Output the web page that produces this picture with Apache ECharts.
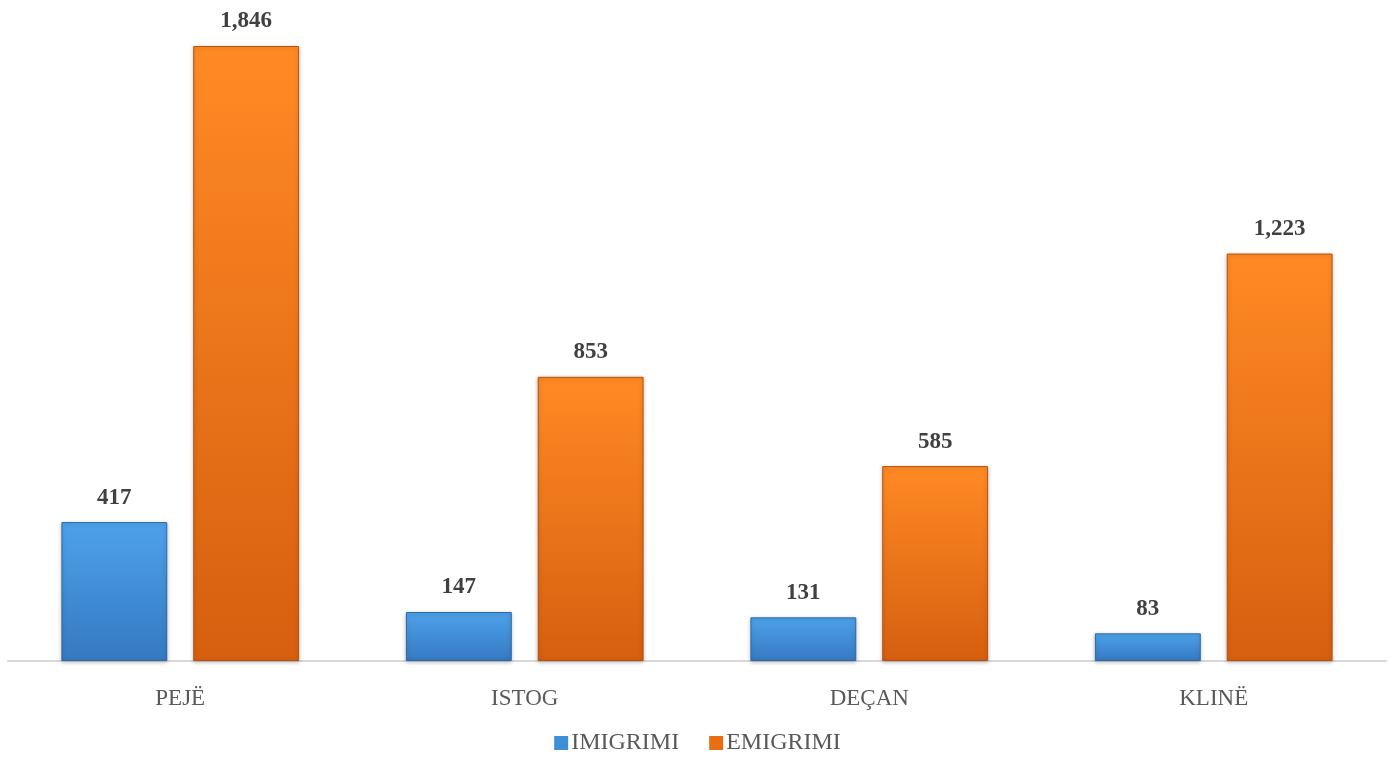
<!DOCTYPE html>
<html>
<head>
<meta charset="utf-8">
<script src="https://cdn.jsdelivr.net/npm/echarts@6/dist/echarts.min.js"></script>
<style>
  html, body { margin: 0; padding: 0; background: #fff; }
  #chart { width: 1395px; height: 760px; }
</style>
</head>
<body>
<div id="chart"></div>
<script>
var categories = ['PEJË', 'ISTOG', 'DEÇAN', 'KLINË'];
var seriesNames = ['IMIGRIMI', 'EMIGRIMI'];
var imigrimi = [417, 147, 131, 83];
var emigrimi = [1846, 853, 585, 1223];

var font = '"Liberation Serif", "DejaVu Serif", serif';

function grad(c) {
    return new echarts.graphic.LinearGradient(0, 0, 0, 1, [
        { offset: 0, color: c[0] },
        { offset: 1, color: c[1] }
    ]);
}

var colors = [
    { fill: grad(['#4da2ea', '#3579c2']), border: '#2c6aa6', icon: '#3f8fd8' },
    { fill: grad(['#ff8a24', '#d65f10']), border: '#b8520c', icon: '#e86e16' }
];

var main = {
    init: function () {
        var dom = document.getElementById('chart');
        var myChart = echarts.init(dom);
        var values = [imigrimi, emigrimi];
        var series = [];
        for (var i = 0; i < values.length; i++) {
            series.push({
                name: seriesNames[i],
                type: 'bar',
                data: values[i],
                barGap: '24.5%',
                barCategoryGap: '31%',
                itemStyle: {
                    color: colors[i].fill,
                    borderColor: colors[i].border,
                    borderWidth: 1,
                    shadowColor: 'rgba(0,0,0,0.25)',
                    shadowBlur: 4,
                    shadowOffsetY: 1
                },
                label: {
                    show: true,
                    position: 'top',
                    distance: 13,
                    fontFamily: font,
                    fontWeight: 'bold',
                    fontSize: 23,
                    color: '#404040',
                    formatter: function (p) {
                        return p.value.toLocaleString('en-US');
                    }
                }
            });
        }
        var option = {
            animation: false,
            legend: {
                bottom: 0,
                left: 'center',
                itemWidth: 14,
                itemHeight: 14,
                itemGap: 30,
                icon: 'rect',
                textStyle: { fontFamily: font, fontSize: 24, color: '#595959', padding: [0, 0, 0, -2] },
                data: [
                    { name: seriesNames[0], itemStyle: { color: colors[0].icon, borderWidth: 0, shadowBlur: 0 } },
                    { name: seriesNames[1], itemStyle: { color: colors[1].icon, borderWidth: 0, shadowBlur: 0 } }
                ]
            },
            grid: { left: 8, right: 9, top: 46, bottom: 99 },
            xAxis: {
                type: 'category',
                data: categories,
                axisLine: { lineStyle: { color: '#d9d9d9', width: 2 } },
                axisTick: { show: false },
                axisLabel: {
                    margin: 26,
                    fontFamily: font,
                    fontSize: 23,
                    color: '#595959'
                }
            },
            yAxis: {
                type: 'value',
                min: 0,
                max: 'dataMax',
                show: false,
                splitLine: { show: false }
            },
            series: series
        };
        myChart.setOption(option, true);
    }
};
main.init();
</script>
</body>
</html>
